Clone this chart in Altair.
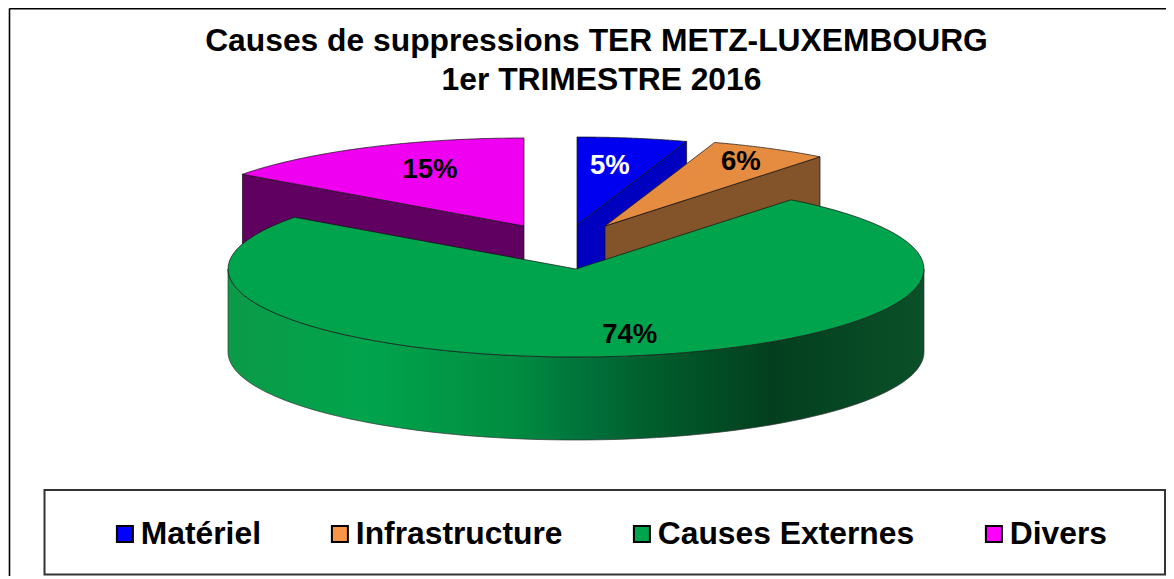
import math
import altair as alt
import pandas as pd

# ---- values
categories = ["Matériel", "Infrastructure", "Causes Externes", "Divers"]
shares = [5.1, 5.5, 74.4, 15.0]
labels = ["5%", "6%", "74%", "15%"]
title_lines = ["Causes de suppressions TER METZ-LUXEMBOURG", "1er TRIMESTRE 2016"]

# ---- styling
legend_colors = ["#0000ff", "#f79646", "#00a44c", "#ff00ff"]
top_colors = ["#0000f0", "#e58c40", "#00a44c", "#f000f0"]
side_colors = ["#0000c0", "#83542a", None, "#600060"]
label_colors = ["white", "black", "black", "black"]
FONT = "Liberation Sans"

# ---- projection of the tilted pie (image coordinates)
RX, RY, DEPTH = 348, 88, 83
apex = [(577, 225), (605, 226), (576, 269), (524, 226)]
label_frac = [(0.59, 0.68), (0.825, 0.83), (1.12, 0.76), (0.595, 0.72)]

W, H = 1158, 568

starts, ends, acc = [], [], 0
for s in shares:
    starts.append(acc * 3.6)
    acc += s
    ends.append(acc * 3.6)


def rim(cx, cy, deg, drop=0):
    a = math.radians(deg)
    return cx + RX * math.sin(a), cy - RY * math.cos(a) + drop


def arc_pts(cx, cy, a0, a1, drop=0, n=80):
    return [rim(cx, cy, a0 + (a1 - a0) * k / n, drop) for k in range(n + 1)]


def frame(pts):
    pts = list(pts) + [pts[0]]
    return pd.DataFrame({"x": [p[0] for p in pts], "y": [p[1] for p in pts], "i": range(len(pts))})


X = alt.X("x:Q", axis=None, scale=alt.Scale(domain=[8, 8 + W], range=[0, W], nice=False, zero=False))
Y = alt.Y("y:Q", axis=None, scale=alt.Scale(domain=[8, 8 + H], range=[0, H], nice=False, zero=False))


def poly(pts, fill, stroke="#111111", sw=0.7):
    return alt.Chart(frame(pts)).mark_line(fill=fill, stroke=stroke, strokeWidth=sw, interpolate="linear").encode(
        x=X, y=Y, order=alt.Order("i:Q")
    )


def top(i):
    cx, cy = apex[i]
    return [(cx, cy)] + arc_pts(cx, cy, starts[i], ends[i])


def wall(i, deg):
    cx, cy = apex[i]
    e = rim(cx, cy, deg)
    return [(cx, cy), e, (e[0], e[1] + DEPTH), (cx, cy + DEPTH)]


layers = []
layers.append(alt.Chart(pd.DataFrame({"a": [0]})).mark_rule(color="black", strokeWidth=1.6).encode(
    x=alt.value(1.5), x2=alt.value(1.5), y=alt.value(0.5), y2=alt.value(H)))
layers.append(alt.Chart(pd.DataFrame({"a": [0]})).mark_rule(color="black", strokeWidth=1.6).encode(
    x=alt.value(1.5), x2=alt.value(W), y=alt.value(0.8), y2=alt.value(0.8)))
layers.append(alt.Chart(pd.DataFrame({"a": [0]})).mark_rect(fill="white", stroke="#333333", strokeWidth=2).encode(
    x=alt.value(36.5), x2=alt.value(W - 1), y=alt.value(482), y2=alt.value(566.5)))

layers.append(poly(wall(0, ends[0]), side_colors[0]))
layers.append(poly(top(0), top_colors[0]))
layers.append(poly(wall(3, starts[3]), side_colors[3]))
layers.append(poly(top(3), top_colors[3]))
layers.append(poly(wall(1, ends[1]), side_colors[1]))
layers.append(poly(top(1), top_colors[1]))

gcx, gcy = apex[2]
outer = arc_pts(gcx, gcy, 90, 270) + arc_pts(gcx, gcy, 270, 90, DEPTH)
grad = alt.Gradient(
    gradient="linear", x1=0, x2=1, y1=0, y2=0,
    stops=[
        alt.GradientStop(offset=0, color="#0c9a48"),
        alt.GradientStop(offset=0.2, color="#00a44c"),
        alt.GradientStop(offset=0.33, color="#009645"),
        alt.GradientStop(offset=0.42, color="#008a40"),
        alt.GradientStop(offset=0.52, color="#00703a"),
        alt.GradientStop(offset=0.6, color="#005f2d"),
        alt.GradientStop(offset=0.78, color="#033f1e"),
        alt.GradientStop(offset=1, color="#0a5028"),
    ],
)
layers.append(poly(outer, grad, stroke="#333333"))
layers.append(poly(top(2), top_colors[2]))

lab_rows = []
for i, t in enumerate(labels):
    mid = math.radians((starts[i] + ends[i]) / 2)
    lab_rows.append({
        "x": apex[i][0] + label_frac[i][0] * RX * math.sin(mid),
        "y": apex[i][1] - label_frac[i][1] * RY * math.cos(mid),
        "t": t, "c": label_colors[i],
    })
layers.append(alt.Chart(pd.DataFrame(lab_rows)).mark_text(
    font=FONT, fontWeight="bold", fontSize=27.5, align="center", baseline="middle"
).encode(x=X, y=Y, text="t:N", color=alt.Color("c:N", scale=None)))

for line, yy, xx in zip(title_lines, [33, 72], [588.5, 593.5]):
    layers.append(alt.Chart(pd.DataFrame({"t": [line]})).mark_text(
        font=FONT, fontWeight="bold", fontSize=31.8, align="center", baseline="middle", color="black"
    ).encode(x=alt.value(xx), y=alt.value(yy), text="t:N"))

layers.append(alt.Chart(pd.DataFrame({"c": categories})).mark_square(size=0).encode(
    x=alt.value(0), y=alt.value(0),
    color=alt.Color("c:N", scale=alt.Scale(domain=categories, range=legend_colors), legend=alt.Legend(
        title=None, orient="none", legendX=101, legendY=510, direction="horizontal", columns=4,
        symbolType="square", symbolSize=256, symbolStrokeColor="black", symbolStrokeWidth=2,
        symbolOpacity=1, labelFont=FONT, labelFontWeight="bold", labelFontSize=31.8, labelColor="black",
        labelOffset=0, columnPadding=63, labelLimit=400, padding=0,
    )),
))

chart = alt.layer(*layers).properties(
    width=W, height=H, padding=0, autosize=alt.AutoSizeParams(type="none"), background="white"
).configure_view(stroke=None)

chart.save("out.html", embed_options={"renderer": "svg", "actions": False})
